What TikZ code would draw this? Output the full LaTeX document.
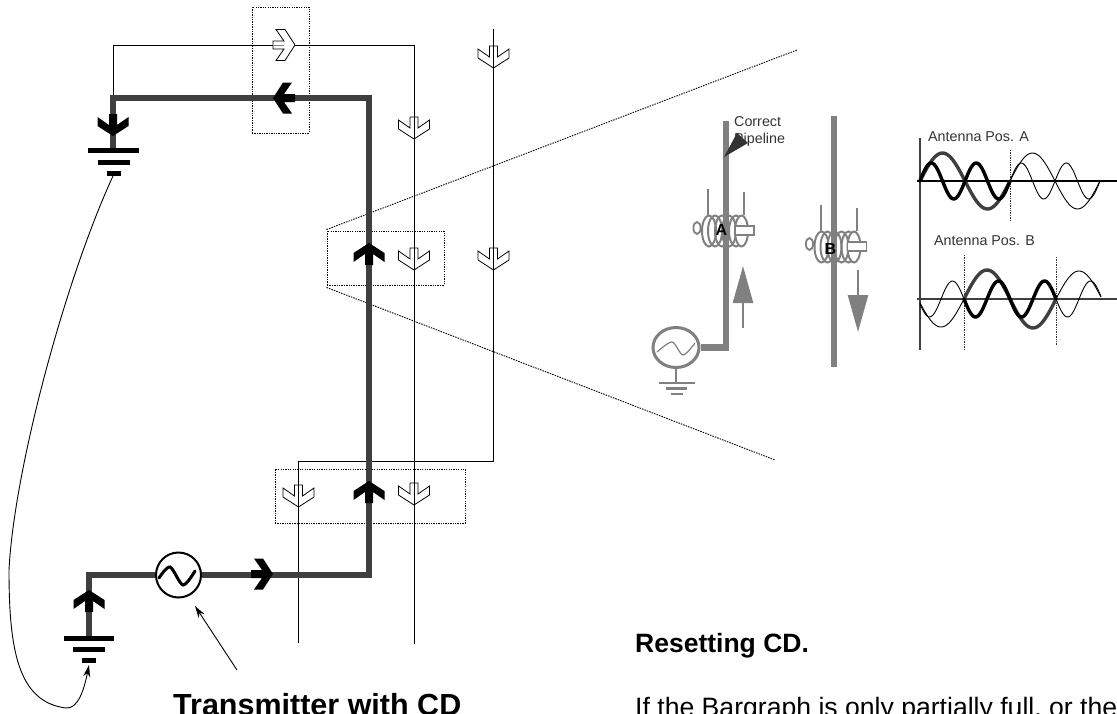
\documentclass[tikz,border=0pt]{standalone}
\usepackage{xcolor}
\usepackage{fontspec}
\setmainfont{Liberation Sans}
\usepackage{tikz}
\usetikzlibrary{shapes.geometric, arrows.meta, positioning, calc}
\definecolor{pipedark}{HTML}{3F3F3F}
\definecolor{pipegray}{HTML}{808080}
\definecolor{labelgray}{HTML}{333333}
\tikzset{
  pipe/.style={line width=6pt, color=pipedark},
  wire/.style={line width=1pt, color=black},
  insetpipe/.style={line width=6.5pt, color=pipegray},
  bar/.style={line width=5pt, color=black},
  groundbar/.style={line width=2.2pt, color=pipegray},
  zonebox/.style={rectangle, draw=black, line width=0.9pt, dash pattern=on 1.3pt off 1.1pt, inner sep=0pt},
  zoomline/.style={line width=0.9pt, dash pattern=on 1.5pt off 1.1pt},
  sline/.style={line width=0.8pt, dash pattern=on 1.3pt off 1.1pt, color=labelgray},
  leader/.style={-{Stealth[length=12pt,width=7pt]}, line width=0.9pt},
  wavebig/.style={line width=3.4pt, color=pipedark, line cap=round},
  wavesmall/.style={line width=3.4pt, color=black, line cap=round},
  wavethin/.style={line width=0.9pt, color=black},
  plain/.style={inner sep=0pt, anchor=base west},
  heading/.style={plain, font=\fontsize{26.5}{30}\selectfont\bfseries},
  bodytext/.style={plain, font=\fontsize{26.6}{30}\selectfont},
  smalltext/.style={plain, align=left, text=labelgray, font=\fontsize{14.3}{16.7}\selectfont},
  chevron/.pic={
    \path[pic actions] (0,0) -- (15.5,-10) -- (15.5,-19) -- (4,-11) -- (4,-22)
      -- (-4,-22) -- (-4,-11) -- (-15.5,-19) -- (-15.5,-10) -- cycle;
  },
  solidtip/.style={fill=black, draw=none},
  opentip/.style={draw=black, line width=0.8pt},
  coil/.pic={
    \foreach \ox in {-17,-11,-4,3,10}
      \draw[pipegray, line width=2pt] (\ox,0) ellipse (7 and 15.5);
    \draw[pipegray, line width=2pt, fill=white] (15.5,0) ellipse (6.5 and 15.5);
    \draw[pipegray, line width=1.8pt, fill=white] (-29,-3) ellipse (3.6 and 6);
    \draw[pipegray, line width=1.2pt, fill=white] (9,-5) rectangle (28,4);
    \draw[pipegray, line width=2pt] (-18,-16) -- (-18,-42);
    \draw[pipegray, line width=2pt] (18,-16) -- (18,-39);
  },
}
\begin{document}
\begin{tikzpicture}[x=1pt,y=-1pt]
  \useasboundingbox (0,0) rectangle (1117,713);
  \node[zonebox,minimum width=57pt,minimum height=126pt] (topzone) at (280.5,70) {};
  \node[zonebox,minimum width=117pt,minimum height=54pt] (midzone) at (385.5,258) {};
  \node[zonebox,minimum width=190pt,minimum height=54pt] (lowzone) at (370,496) {};
  \coordinate (zoomtop) at (797,50);
  \coordinate (zoomlow) at (775,460);
  \draw[zoomline] ($(midzone.north west)+(0,-1)$) -- (zoomtop);
  \draw[zoomline] ($(midzone.south west)+(0,2)$) -- (zoomlow);
  \coordinate (topjoin) at (113,98);
  \coordinate (wireAtop) at (414,45);
  \coordinate (wireAend) at (414,644);
  \coordinate (wireBtop) at (493.5,29);
  \coordinate (wireBknee) at (493.5,461);
  \coordinate (wireBend) at (298.5,643);
  \draw[wire] (topjoin) |- (wireAtop) -- (wireAend);
  \draw[wire] (wireBtop) -- (wireBknee) -| (wireBend);
  \coordinate (topbatt) at (113,150);
  \coordinate (riser) at (369,98);
  \coordinate (lowbatt) at (89,638);
  \node[circle,draw=black,line width=2pt,minimum size=45pt,inner sep=0pt] (txgen) at (178.5,575) {};
  \draw[pipe] (lowbatt) |- (txgen);
  \draw[pipe] (txgen) -| (riser) -| (topbatt);
  \draw[line width=3pt,line cap=round] plot[smooth] coordinates {(159,578) (170,567) (183,585) (195,571)};
  \draw[bar] (88,150) -- (139,150);
  \draw[bar] (98,162) -- (130,162);
  \draw[bar] (107,173) -- (121,173);
  \draw[bar] (64,638) -- (114,638);
  \draw[bar] (73,649) -- (105,649);
  \draw[bar] (82,660) -- (96,660);
  \coordinate (topfoot) at (113,176);
  \coordinate (lowfoot) at (89,665);
  \draw[line width=0.9pt,-{Stealth[length=12pt,width=7pt]}] (topfoot) .. controls (65,280) and (14,470) .. (9,570) .. controls (9,650) and (18,702) .. (66,708) .. controls (78,709) and (84,690) .. (lowfoot);
  \path (113,136) pic[solidtip] {chevron};
  \path (89,590) pic[solidtip,rotate=180] {chevron};
  \path (273,574) pic[solidtip,rotate=90] {chevron};
  \path (273,98) pic[solidtip,rotate=-90] {chevron};
  \path (369,243) pic[solidtip,rotate=180] {chevron};
  \path (369,481) pic[solidtip,rotate=180] {chevron};
  \path (295,45) pic[opentip,fill=white,rotate=90] {chevron};
  \draw[wire,pipegray] (273,45) -- (284,45);
  \path (414,139) pic[opentip] {chevron};
  \path (493.5,68) pic[opentip] {chevron};
  \path (414,270) pic[opentip] {chevron};
  \path (493.5,270) pic[opentip] {chevron};
  \path (414,505) pic[opentip] {chevron};
  \path (298.5,507) pic[opentip] {chevron};
  \coordinate (leaderfoot) at (237,670);
  \coordinate (leadertip) at (195,606);
  \draw[leader] (leaderfoot) -- (leadertip);
  \node[heading,font=\fontsize{30.5}{34}\selectfont\bfseries] (txlabel) at (173,715) {Transmitter with CD};
  \node[heading] (resetlabel) at (635,652) {Resetting CD.};
  \node[bodytext] (resetbody) at (635,716) {If the Bargraph is only partially full, or the};
  \coordinate (pipeAtop) at (726,121);
  \coordinate (pipeBtop) at (834,116);
  \coordinate (pipeBend) at (834,367);
  \node[ellipse,draw=pipegray,line width=3pt,minimum width=46pt,minimum height=40pt,inner sep=0pt] (scopegen) at (676,347.5) {};
  \draw[insetpipe] (scopegen) -| (pipeAtop);
  \draw[insetpipe] (pipeBtop) -- (pipeBend);
  \draw[pipegray,line width=1.2pt] plot[smooth] coordinates {(657,352) (672,342) (683,355) (695,343)};
  \draw[groundbar] (scopegen) -- (676,383);
  \draw[groundbar] (659,383) -- (695,383);
  \draw[groundbar] (666,388.5) -- (687,388.5);
  \draw[groundbar] (671,394) -- (683,394);
  \path (726,231) pic {coil};
  \path (838.5,247) pic {coil};
  \node[inner sep=0pt,font=\fontsize{16}{16}\selectfont\bfseries] (coilA) at (721.5,229.5) {A};
  \node[inner sep=0pt,font=\fontsize{16}{16}\selectfont\bfseries] (coilB) at (830.5,249) {B};
  \coordinate (flowAfoot) at (743,328);
  \coordinate (flowAtip) at (743,266);
  \coordinate (flowBfoot) at (858,270);
  \coordinate (flowBtip) at (858,332);
  \draw[pipegray,line width=2.6pt,-{Triangle[length=37pt,width=20pt]}] (flowAfoot) -- (flowAtip);
  \draw[pipegray,line width=2.6pt,-{Triangle[length=37pt,width=20pt]}] (flowBfoot) -- (flowBtip);
  \node[smalltext] (pipelabel) at (734,143.5) {Correct\\Pipeline};
  \fill[labelgray] (724,157) -- (737,133) -- (748,143) -- cycle;
  \node[smalltext] (posAlabel) at (928,141) {Antenna Pos. A};
  \node[smalltext] (posBlabel) at (934,245) {Antenna Pos. B};
  \coordinate (axistop) at (920,138);
  \coordinate (axislow) at (920,350);
  \draw[pipedark,line width=1.8pt] (axistop) -- (axislow);
  \draw[black,line width=1.4pt] (917,181) -- (1117,181);
  \draw[pipedark,line width=1.2pt] (917,299) -- (1117,299);
  \draw[sline] (1010,150) -- (1010,221);
  \draw[sline] (964,255) -- (964,349);
  \draw[sline] (1056,257) -- (1056,345);
  \draw[wavethin] plot[domain=1010:1100,samples=50] (\x,{181-28*sin(4*(\x-920))});
  \draw[wavethin] plot[domain=1010:1100,samples=70] (\x,{181-18*sin(8*(\x-920))});
  \draw[wavebig] plot[domain=920:1010,samples=50] (\x,{181-28*sin(4*(\x-920))});
  \draw[wavesmall] plot[domain=920:1010,samples=70] (\x,{181-18*sin(8*(\x-920))});
  \draw[wavethin] plot[domain=920:964,samples=30] (\x,{299-28*sin(3.913*(\x-964))});
  \draw[wavethin] plot[domain=1056:1101,samples=30] (\x,{299-28*sin(3.913*(\x-964))});
  \draw[wavethin] plot[domain=920:964,samples=40] (\x,{299+18*sin(7.826*(\x-964))});
  \draw[wavethin] plot[domain=1056:1101,samples=40] (\x,{299+18*sin(7.826*(\x-964))});
  \draw[wavebig] plot[domain=964:1056,samples=50] (\x,{299-29*sin(3.913*(\x-964))});
  \draw[wavesmall] plot[domain=964:1056,samples=70] (\x,{299+18*sin(7.826*(\x-964))});
\end{tikzpicture}
\end{document}
